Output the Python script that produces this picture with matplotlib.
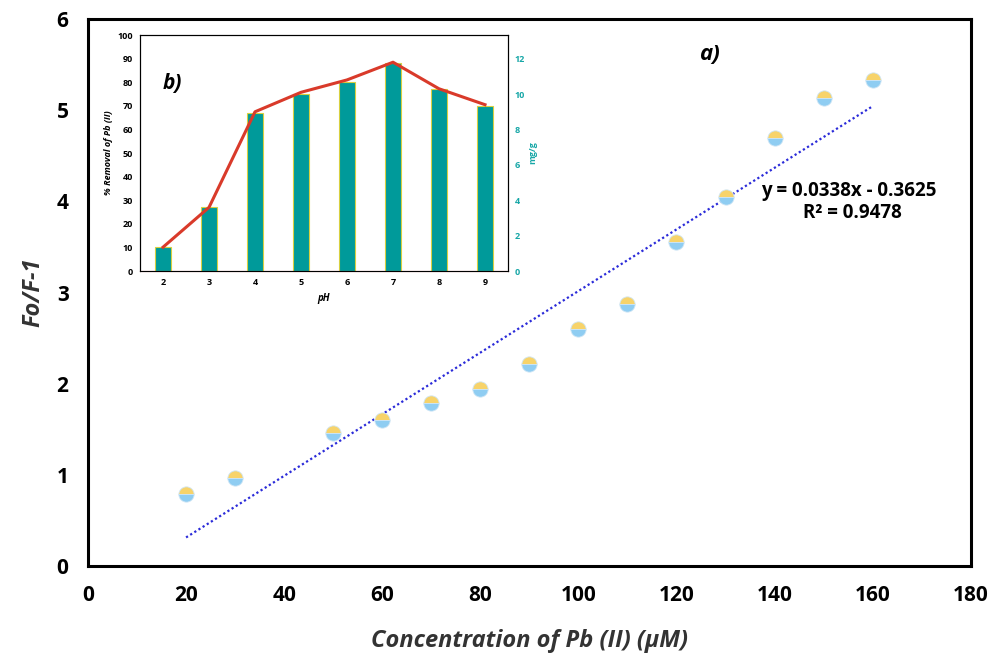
import matplotlib.pyplot as plt
import numpy as np

plt.rcParams["font.family"] = ["Open Sans", "DejaVu Sans"]

# main plot data (Fo/F-1 vs concentration)
conc = [20, 30, 50, 60, 70, 80, 90, 100, 110, 120, 130, 140, 150, 160]
fo_f = [0.79, 0.97, 1.46, 1.60, 1.79, 1.94, 2.22, 2.60, 2.87, 3.55, 4.05, 4.70, 5.14, 5.33]
slope = 0.0338
intercept = -0.3625

# inset data (pH study)
ph = [2, 3, 4, 5, 6, 7, 8, 9]
removal = [10, 27, 67, 75, 80, 88, 77, 70]
capacity = [1.35, 3.6, 9.0, 10.1, 10.8, 11.8, 10.3, 9.4]


def main():
    fig = plt.figure(figsize=(9.93, 6.58), dpi=100)
    ax = fig.add_axes([0.0886, 0.1398, 0.889, 0.831])

    fit_x = np.array([conc[0], conc[-1]])
    ax.plot(fit_x, slope * fit_x + intercept, color="#2b2bd9", linestyle=(0, (1, 1.2)),
            linewidth=1.6, zorder=2)
    ax.plot(conc, fo_f, linestyle="none", marker="o", markersize=11, fillstyle="top",
            markerfacecolor="#f7d36a", markerfacecoloralt="#8fcdf2",
            markeredgecolor="#cfe6f5", markeredgewidth=0.6, zorder=3)

    ax.set_xlim(0, 180)
    ax.set_ylim(0, 6)
    ax.set_xticks(range(0, 181, 20))
    ax.set_yticks(range(0, 7))
    ax.tick_params(length=0, labelsize=15, pad=14)
    for lab in ax.get_xticklabels() + ax.get_yticklabels():
        lab.set_fontweight("bold")
    for sp in ax.spines.values():
        sp.set_linewidth(2.2)
    ax.set_xlabel("Concentration of Pb (II) (μM)", fontsize=17, fontweight="bold",
                  fontstyle="italic", color="#333333", labelpad=16)
    ax.set_ylabel("Fo/F-1", fontsize=17, fontweight="bold", fontstyle="italic",
                  color="#333333", labelpad=8)

    ax.text(124.5, 5.55, "a)", fontsize=16, fontweight="bold", fontstyle="italic")
    ax.text(173, 4.12, "y = 0.0338x - 0.3625", fontsize=13.5, fontweight="bold",
            ha="right", va="center")
    ax.text(166, 3.87, "R² = 0.9478", fontsize=13.5, fontweight="bold",
            ha="right", va="center")

    # inset
    ins = fig.add_axes([0.141, 0.588, 0.3706, 0.3587])
    ins.bar(ph, removal, width=0.34, color="#009a9a", edgecolor="#d8d040",
            linewidth=0.8, zorder=2)
    ins.set_xlim(1.5, 9.5)
    ins.set_ylim(0, 100)
    ins.set_yticks(range(0, 101, 10))
    ins.set_xticks(ph)
    ins.tick_params(length=0, labelsize=6.5, pad=5)
    for lab in ins.get_xticklabels() + ins.get_yticklabels():
        lab.set_fontweight("bold")
    ins.spines["bottom"].set_color("#cc3333")
    ins.set_xlabel("pH", fontsize=7, fontweight="bold", fontstyle="italic", labelpad=4)
    ins.set_ylabel("% Removal of Pb (II)", fontsize=6.5, fontweight="bold",
                   fontstyle="italic", labelpad=3)
    ins.text(2.0, 77, "b)", fontsize=15, fontweight="bold", fontstyle="italic")

    ins2 = ins.twinx()
    ins2.plot(ph, capacity, color="#d93a2a", linewidth=2.2, zorder=3)
    ins2.set_ylim(0, 100 / 7.5)
    ins2.set_yticks(range(0, 13, 2))
    ins2.tick_params(length=0, labelsize=6.5, pad=5, colors="#17a7a7")
    for lab in ins2.get_yticklabels():
        lab.set_fontweight("bold")
    ins2.set_ylabel("mg/g", fontsize=6.5, fontweight="bold", color="#17a7a7",
                    rotation=90, labelpad=2)

    fig.savefig("out.png", dpi=100)


if __name__ == '__main__':
    main()
